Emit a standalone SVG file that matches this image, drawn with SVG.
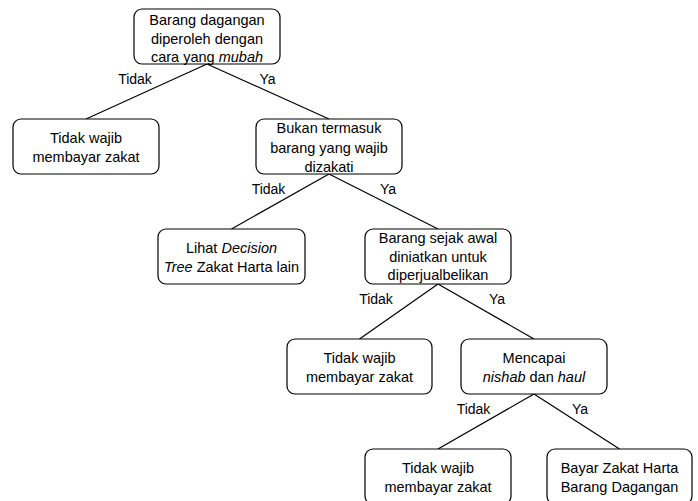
<svg xmlns="http://www.w3.org/2000/svg" width="698" height="501" viewBox="0 0 698 501">
<style>
.box{fill:#fff;stroke:#000;stroke-width:1.2}
.t{font-family:"Liberation Sans",Arial,Helvetica,sans-serif;font-size:14.5px;fill:#000;text-anchor:middle}
.l{font-family:"Liberation Sans",Arial,Helvetica,sans-serif;font-size:14px;fill:#000;text-anchor:middle}
.e{stroke:#000;stroke-width:1.2;fill:none}
</style>
<rect width="698" height="501" fill="#fff"/>
<g id="connectors">
<line class="e" x1="207" y1="64" x2="86" y2="119"/>
<line class="e" x1="207" y1="64" x2="329" y2="119"/>
<line class="e" x1="329" y1="174" x2="231.5" y2="229"/>
<line class="e" x1="329" y1="174" x2="438" y2="229"/>
<line class="e" x1="438" y1="284" x2="359.5" y2="339"/>
<line class="e" x1="438" y1="284" x2="534" y2="339"/>
<line class="e" x1="534" y1="394" x2="438" y2="449"/>
<line class="e" x1="534" y1="394" x2="619.5" y2="449"/>
<text class="l" x="135" y="84">Tidak</text>
<text class="l" x="267.5" y="84">Ya</text>
<text class="l" x="268.5" y="194">Tidak</text>
<text class="l" x="388" y="194">Ya</text>
<text class="l" x="376" y="304">Tidak</text>
<text class="l" x="497" y="304">Ya</text>
<text class="l" x="473.5" y="414">Tidak</text>
<text class="l" x="580" y="414">Ya</text>
</g>
<g id="n1">
<rect class="box" x="134" y="9" width="146" height="55" rx="8"/>
<text class="t" x="207" y="25">Barang dagangan</text>
<text class="t" x="207" y="44">diperoleh dengan</text>
<text class="t" x="207" y="62">cara yang <tspan font-style="italic">mubah</tspan></text>
</g>
<g id="n2">
<rect class="box" x="13" y="119" width="146" height="55" rx="8"/>
<text class="t" x="86" y="143">Tidak wajib</text>
<text class="t" x="86" y="162">membayar zakat</text>
</g>
<g id="n3">
<rect class="box" x="256" y="119" width="146" height="55" rx="8"/>
<text class="t" x="329" y="133">Bukan termasuk</text>
<text class="t" x="329" y="153">barang yang wajib</text>
<text class="t" x="329" y="172">dizakati</text>
</g>
<g id="n4">
<rect class="box" x="158" y="229" width="147" height="55" rx="8"/>
<text class="t" x="231.5" y="253">Lihat <tspan font-style="italic">Decision</tspan></text>
<text class="t" x="231.5" y="272"><tspan font-style="italic">Tree</tspan> Zakat Harta lain</text>
</g>
<g id="n5">
<rect class="box" x="365" y="229" width="146" height="55" rx="8"/>
<text class="t" x="438" y="243">Barang sejak awal</text>
<text class="t" x="438" y="262">diniatkan untuk</text>
<text class="t" x="438" y="280">diperjualbelikan</text>
</g>
<g id="n6">
<rect class="box" x="287" y="339" width="145" height="55" rx="8"/>
<text class="t" x="359.5" y="363">Tidak wajib</text>
<text class="t" x="359.5" y="382">membayar zakat</text>
</g>
<g id="n7">
<rect class="box" x="461" y="339" width="146" height="55" rx="8"/>
<text class="t" x="534" y="363">Mencapai</text>
<text class="t" x="534" y="382"><tspan font-style="italic">nishab</tspan> dan <tspan font-style="italic">haul</tspan></text>
</g>
<g id="n8">
<rect class="box" x="365" y="449" width="146" height="55" rx="8"/>
<text class="t" x="438" y="473">Tidak wajib</text>
<text class="t" x="438" y="492">membayar zakat</text>
</g>
<g id="n9">
<rect class="box" x="547" y="449" width="145" height="55" rx="8"/>
<text class="t" x="619.5" y="473">Bayar Zakat Harta</text>
<text class="t" x="619.5" y="492">Barang Dagangan</text>
</g>
</svg>
